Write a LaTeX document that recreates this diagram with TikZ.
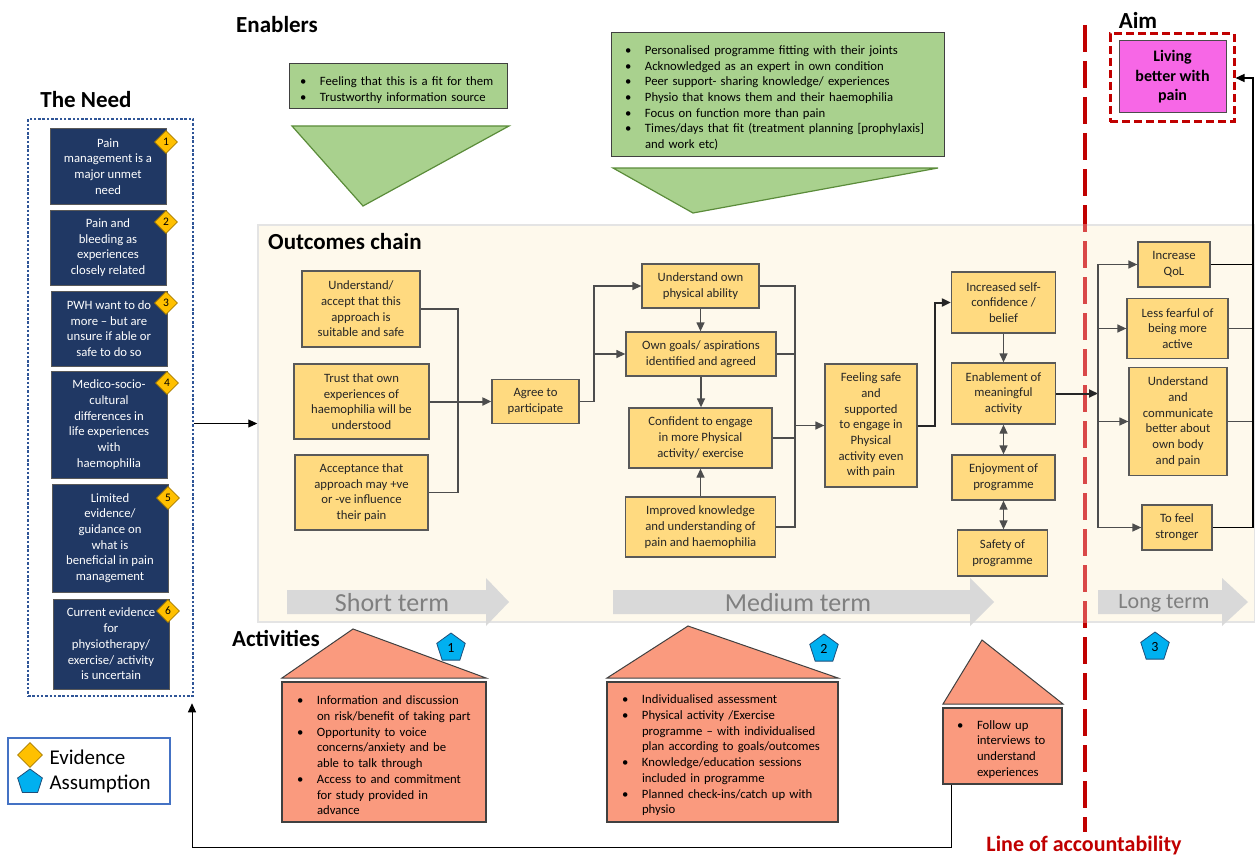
\documentclass[tikz,border=0pt]{standalone}
\usepackage{fontspec}
\setmainfont{Carlito}
\usepackage{xcolor}
\usepackage{tikz}
\usetikzlibrary{arrows.meta,shapes}

\definecolor{navybox}{HTML}{203864}
\definecolor{needline}{HTML}{595959}
\definecolor{needframe}{HTML}{2F5597}
\definecolor{evyellow}{HTML}{FFC000}
\definecolor{evline}{HTML}{A67C00}
\definecolor{ascyan}{HTML}{00B0F0}
\definecolor{asline}{HTML}{1F4E79}
\definecolor{outyellow}{HTML}{FFDA80}
\definecolor{outborder}{HTML}{595959}
\definecolor{outtext}{HTML}{262626}
\definecolor{enabgreen}{HTML}{A9D18E}
\definecolor{enabline}{HTML}{404040}
\definecolor{enabedge}{HTML}{5B8C3A}
\definecolor{actsalmon}{HTML}{FA9A7E}
\definecolor{actline}{HTML}{404040}
\definecolor{cream}{HTML}{FEF9EC}
\definecolor{panelline}{HTML}{E4E4E4}
\definecolor{termfill}{HTML}{D9D9D9}
\definecolor{termgray}{HTML}{7F7F7F}
\definecolor{accred}{HTML}{C00000}
\definecolor{accpale}{HTML}{D94848}
\definecolor{aimpink}{HTML}{F767E6}
\definecolor{legline}{HTML}{4472C4}
\definecolor{connline}{HTML}{4D4D4D}

\newcommand{\cellfont}{\fontsize{12.7}{15.7}\selectfont}
\newcommand{\headfont}{\fontsize{23}{27}\selectfont\bfseries}
\newcommand{\bul}[1]{\par\hangindent=20pt\hangafter=1\noindent\hbox to 20pt{\textbullet\hfil}{\let\\\newline #1}\par}

\begin{document}
\begin{tikzpicture}[x=1pt,y=-1pt,
        >={Triangle[length=9pt,width=8pt]},
        need/.style={draw=needline, fill=navybox, text=white, line width=1pt, align=center, font=\cellfont, inner sep=0pt},
        evid/.style={diamond, aspect=1, draw=evline, fill=evyellow, line width=0.8pt, minimum size=23pt, inner sep=0pt, font=\fontsize{11.5}{11.5}\selectfont},
        assum/.style={regular polygon, regular polygon sides=5, draw=asline, fill=ascyan, line width=0.8pt, minimum size=30pt, inner sep=0pt, font=\fontsize{14}{14}\selectfont},
        outc/.style={draw=outborder, fill=outyellow, line width=1.3pt, align=center, font=\cellfont, text=outtext, inner sep=0pt},
        enab/.style={draw=enabline, fill=enabgreen, line width=1pt, align=left, font=\cellfont, inner xsep=14pt, inner ysep=0pt},
        act/.style={draw=actline, fill=actsalmon, line width=1.2pt, align=left, font=\cellfont, inner xsep=15pt, inner ysep=0pt},
        conn/.style={draw=connline, line width=1.3pt},
        thickconn/.style={draw=black!85, line width=2pt},
        headtxt/.style={font=\headfont, inner sep=0pt},
        termtext/.style={font=\fontsize{26}{30}\selectfont, text=termgray},
        accdash/.style={line width=3.5pt, dash pattern=on 27pt off 9pt},
        ]
        \useasboundingbox (0,0) rectangle (1255,856);

        \node[draw=panelline, fill=cream, line width=1.5pt, minimum width=997pt, minimum height=397pt, inner sep=0pt] (panel) at (756.5,423.5) {};
        % line of accountability, paler where it crosses the chain panel
        \draw[accred, accdash] (1085,25) -- (1085,832);
        \begin{scope}
            \clip (panel.north west) rectangle (panel.south east);
            \draw[accpale, accdash] (1085,25) -- (1085,832);
        \end{scope}

        % the need
        \node[headtxt] (needtitle) at (86,100) {The Need};
        \node[draw=needframe, line width=2.5pt, dash pattern=on 2.5pt off 1.8pt, minimum width=165pt, minimum height=577pt, inner sep=0pt] (need) at (110.5,407.5) {};
        \node[need, minimum width=116pt, minimum height=75pt] (need1) at (108,166.5) {Pain\\management is a\\major unmet\\need};
        \node[need, minimum width=116pt, minimum height=75pt] (need2) at (108,247.5) {Pain and\\bleeding as\\experiences\\closely related};
        \node[need, minimum width=116pt, minimum height=75pt] (need3) at (109,328.5) {PWH want to do\\more -- but are\\unsure if able or\\safe to do so};
        \node[need, minimum width=116pt, minimum height=107pt] (need4) at (109,424.5) {Medico-socio-\\cultural\\differences in\\life experiences\\with\\haemophilia};
        \node[need, minimum width=116pt, minimum height=108pt] (need5) at (110,538) {Limited\\evidence/\\guidance on\\what is\\beneficial in pain\\management};
        \node[need, minimum width=116pt, minimum height=90pt] (need6) at (111,644) {Current evidence\\for\\physiotherapy/\\exercise/ activity\\is uncertain};
        \node[evid] (ev1) at (166,142) {1};
        \node[evid] (ev2) at (166,222) {2};
        \node[evid] (ev3) at (166,303) {3};
        \node[evid] (ev4) at (167,383) {4};
        \node[evid] (ev5) at (168,498) {5};
        \node[evid] (ev6) at (168,611) {6};

        % legend
        \node[draw=legline, line width=1.2pt, minimum width=162pt, minimum height=66pt, inner sep=0pt] (legend) at (89,771) {};
        \node[evid, minimum size=25pt] (legev) at (30,755) {};
        \node[assum, minimum size=26pt] (legas) at (30,782) {};
        \node[anchor=west, font=\fontsize{21}{24}\selectfont] (legevtext) at (46,757) {Evidence};
        \node[anchor=west, font=\fontsize{21}{24}\selectfont] (legastext) at (46,784) {Assumption};

        % enablers
        \node[headtxt] (enabtitle) at (277,25) {Enablers};
        \node[enab, inner xsep=11pt, text width=196pt, minimum height=45pt] (fitbox) at (398,86.5) {\bul{Feeling that this is a fit for them}\bul{Trustworthy information source}};
        \filldraw[fill=enabgreen, draw=enabedge, line width=1.2pt] (292,126) -- (509,126) -- (363,206) -- cycle;
        \node[enab, text width=305pt, minimum height=123pt] (progbox) at (777.5,94.5) {\bul{Personalised programme fitting with their joints}\bul{Acknowledged as an expert in own condition}\bul{Peer support- sharing knowledge/ experiences}\bul{Physio that knows them and their haemophilia}\bul{Focus on function more than pain}\bul{Times/days that fit (treatment planning [prophylaxis]\\and work etc)}};
        \filldraw[fill=enabgreen, draw=enabedge, line width=1.2pt] (613,168) -- (938,168) -- (693,213) -- cycle;

        % outcomes chain
        \node[headtxt, anchor=west] (chaintitle) at (268,242) {Outcomes chain};
        \node[outc, minimum width=118pt, minimum height=76pt] (shortA) at (361,309) {Understand/\\accept that this\\approach is\\suitable and safe};
        \node[outc, minimum width=135pt, minimum height=75pt] (shortB) at (361.5,401.5) {Trust that own\\experiences of\\haemophilia will be\\understood};
        \node[outc, minimum width=133pt, minimum height=75pt] (shortC) at (361.5,492.5) {Acceptance that\\approach may +ve\\or -ve influence\\their pain};
        \node[outc, minimum width=87pt, minimum height=44pt] (agree) at (535.5,401.5) {Agree to\\participate};
        \node[outc, minimum width=117pt, minimum height=44pt] (medA) at (700.5,286) {Understand own\\physical ability};
        \node[outc, minimum width=150pt, minimum height=44pt] (medB) at (701,354) {Own goals/ aspirations\\identified and agreed};
        \node[outc, minimum width=143pt, minimum height=60pt] (medC) at (700.5,438) {Confident to engage\\in more Physical\\activity/ exercise};
        \node[outc, minimum width=150pt, minimum height=60pt] (medD) at (700.5,527) {Improved knowledge\\and understanding of\\pain and haemophilia};
        \node[outc, minimum width=92pt, minimum height=123pt] (safefeel) at (871,425.5) {Feeling safe\\and\\supported\\to engage in\\Physical\\activity even\\with pain};
        \node[outc, minimum width=104pt, minimum height=61pt] (conf) at (1003.5,302.5) {Increased self-\\confidence /\\belief};
        \node[outc, minimum width=104pt, minimum height=61pt] (meaning) at (1003.5,393.5) {Enablement of\\meaningful\\activity};
        \node[outc, minimum width=103pt, minimum height=45pt] (enjoy) at (1003.5,477.5) {Enjoyment of\\programme};
        \node[outc, minimum width=90pt, minimum height=46pt] (safety) at (1002.5,553) {Safety of\\programme};
        \node[outc, minimum width=72pt, minimum height=45pt] (qol) at (1174,264.5) {Increase\\QoL};
        \node[outc, minimum width=101pt, minimum height=60pt] (fear) at (1177.5,328.5) {Less fearful of\\being more\\active};
        \node[outc, minimum width=98pt, minimum height=108pt] (comm) at (1178,421.5) {Understand\\and\\communicate\\better about\\own body\\and pain};
        \node[outc, minimum width=70pt, minimum height=45pt] (strong) at (1177,527.5) {To feel\\stronger};

        \coordinate (sj) at (458,401.5);
        \draw[conn] (shortA.east) -| (sj);
        \draw[conn] (shortC.east) -| (sj);
        \draw[thickconn, draw=connline, ->] (shortB.east) -- (agree.west);
        \coordinate (aj) at (594,401.5);
        \draw[conn] (agree.east) -- (aj);
        \draw[conn, ->] (aj) |- (medA.west);
        \draw[conn, ->] (aj) |- (medB.west);
        \draw[conn, ->] (medA.south) -- (medA.south |- medB.north);
        \draw[conn, ->] (medB.south) -- (medB.south |- medC.north);
        \draw[conn, ->] (medD.north) -- (medD.north |- medC.south);
        \coordinate (mj) at (795,425.5);
        \draw[conn] (medA.east) -| (mj);
        \draw[conn] (medB.east) -| (mj);
        \draw[conn] (medC.east) -| (mj);
        \draw[conn] (medD.east) -| (mj);
        \draw[conn, ->] (mj) -- (safefeel.west);
        \draw[thickconn, ->] (safefeel.east) -- ++(17,0) |- (conf.west);
        \draw[conn, ->] (conf.south) -- (conf.south |- meaning.north);
        \draw[conn, <->] (meaning.south) -- (meaning.south |- enjoy.north);
        \draw[conn, <->] (enjoy.south) -- (enjoy.south |- safety.north);
        \coordinate (lj) at (1098,393.5);
        \draw[thickconn, ->] (meaning.east) -- (lj);
        \draw[conn, ->] (lj) |- (qol.west);
        \draw[conn, ->] (lj) |- (fear.west);
        \draw[conn, ->] (lj) |- (comm.west);
        \draw[conn, ->] (lj) |- (strong.west);

        % aim
        \node[headtxt] (aimtitle) at (1138,20) {Aim};
        \node[draw=black!70, fill=aimpink, line width=1pt, minimum width=107pt, minimum height=72pt, align=center, font=\fontsize{16}{19.5}\selectfont\bfseries, inner sep=0pt] (aim) at (1172.5,77) {Living\\better with\\pain};
        \node[draw=accred, line width=3pt, dash pattern=on 8pt off 4pt, minimum width=124pt, minimum height=88pt, inner sep=0pt] (aimframe) at (1172,78) {};
        \coordinate (rb) at (1253,78);
        \draw[conn, draw=black] (qol.east) -| (rb);
        \draw[conn] (fear.east) -- (fear.east -| rb);
        \draw[conn] (comm.east) -- (comm.east -| rb);
        \draw[conn, draw=black, ->] (strong.east) -| (rb) -- (aimframe.east);

        % terms
        \fill[termfill] (287,590) -- (486,590) -- (486,578) -- (509,602) -- (486,626) -- (486,614) -- (287,614) -- cycle;
        \node[termtext] (shortterm) at (392,603) {Short term};
        \fill[termfill] (613,590) -- (970,590) -- (970,578) -- (994,602) -- (970,626) -- (970,614) -- (613,614) -- cycle;
        \node[termtext] (medterm) at (798,603) {Medium term};
        \fill[termfill] (1098,590) -- (1222,590) -- (1222,578) -- (1248,602) -- (1222,626) -- (1222,614) -- (1098,614) -- cycle;
        \node[termtext, font=\fontsize{22}{26}\selectfont] (longterm) at (1164,603) {Long term};

        % activities
        \node[headtxt] (acttitle) at (276,638) {Activities};
        \filldraw[fill=actsalmon, draw=actline, line width=1pt] (282,678) -- (486,678) -- (353,629) -- cycle;
        \node[act, text width=174pt, minimum height=140pt] (actA) at (384,752) {\bul{Information and discussion\\on risk/benefit of taking part}\bul{Opportunity to voice\\concerns/anxiety and be\\able to talk through}\bul{Access to and commitment\\for study provided in\\advance}};
        \filldraw[fill=actsalmon, draw=actline, line width=1pt] (607,678) -- (838,678) -- (688,626) -- cycle;
        \node[act, text width=201pt, minimum height=140pt] (actB) at (722.5,752) {\bul{Individualised assessment}\bul{Physical activity /Exercise\\programme -- with individualised\\plan according to goals/outcomes}\bul{Knowledge/education sessions\\included in programme}\bul{Planned check-ins/catch up with\\physio}};
        \filldraw[fill=actsalmon, draw=actline, line width=1pt] (943,704) -- (1063,704) -- (982,640) -- cycle;
        \node[act, inner xsep=14pt, text width=91pt, minimum height=76pt] (actC) at (1002.5,746) {\bul{Follow up\\interviews to\\understand\\experiences}};
        \node[assum] (asA) at (451,648) {1};
        \node[assum] (asB) at (824,649) {2};
        \node[assum] (asC) at (1155,647) {3};

        \draw[->, line width=1pt] (need.east |- panel.west) -- (panel.west);
        \coordinate (back) at (192,847);
        \draw[->, line width=1pt, shorten >=6pt] ([xshift=9pt]actC.south west) |- (back) -- (back |- need.south);

        \node[anchor=base, font=\fontsize{22}{26}\selectfont\bfseries, text=accred] (acctext) at (1084,851) {Line of accountability};
    \end{tikzpicture}
\end{document}
